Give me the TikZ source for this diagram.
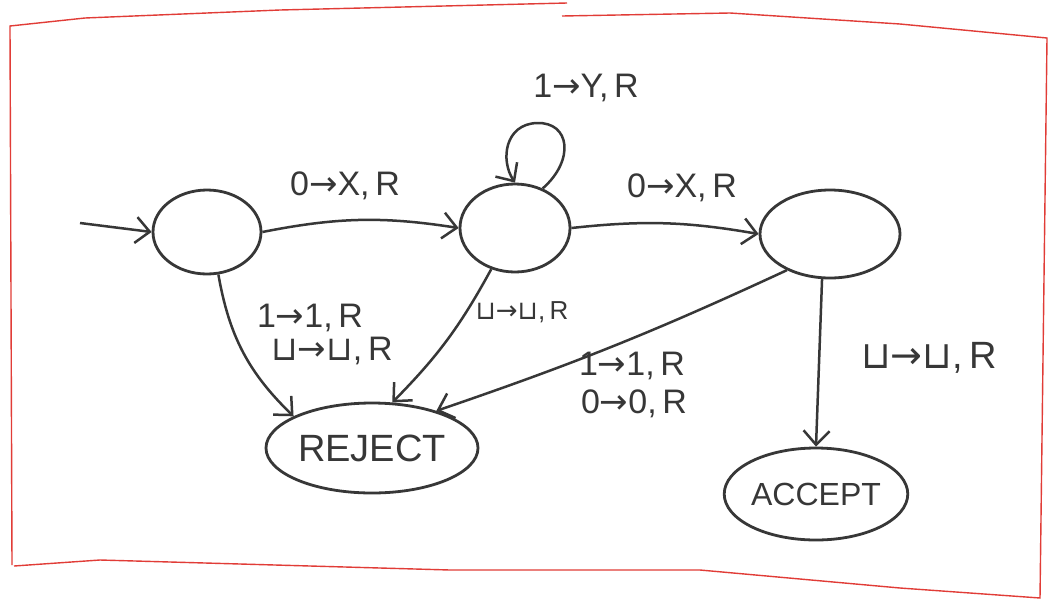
\documentclass[tikz,border=0pt]{standalone}
\usepackage{fontspec}
\setmainfont{Liberation Sans}
\newfontfamily\symf{DejaVu Sans}
\usetikzlibrary{shapes.geometric,arrows.meta}
\definecolor{ink}{RGB}{55,55,55}
\definecolor{redline}{RGB}{225,60,55}
\tikzset{
  st/.style={draw=ink, ellipse, line width=2.8pt, inner sep=0pt, text=ink},
  tr/.style={draw=ink, line width=2.5pt, -{Straight Barb[length=14pt,width=26pt,line width=2.5pt]}},
  lab/.style={font=\fontsize{34}{38}\selectfont, inner sep=1pt, text=ink},
  slab/.style={font=\fontsize{26}{30}\selectfont, inner sep=1pt, text=ink},
  frame/.style={draw=redline, line width=1.4pt}
}
\newcommand{\bl}{{\symf ⊔}}
\newcommand{\ar}{{\symf →}}
\begin{document}
\begin{tikzpicture}[x=1pt,y=-1pt]
\useasboundingbox (0,0) rectangle (1057,606);
\fill[white] (0,0) rectangle (1057,606);
% frame
\draw[frame] (12,565) -- (10,26) -- (85,18) -- (280,10) -- (567,3);
\draw[frame] (562,16) -- (730,13) -- (900,24) -- (1047,38) -- (1040,598) -- (900,588) -- (700,570) -- (450,570) -- (100,560) -- (14,566);
% states
\node[st, minimum width=108pt, minimum height=84pt] (q1) at (207,232) {};
\node[st, minimum width=110pt, minimum height=88pt] (q2) at (515,228) {};
\node[st, minimum width=140pt, minimum height=88pt] (q3) at (830,234) {};
\node[st, minimum width=212pt, minimum height=90pt, font=\fontsize{38}{42}\selectfont] (rej) at (372,448) {REJECT};
\node[st, minimum width=144pt, minimum height=92pt, font=\fontsize{32}{36}\selectfont] (acc) at (816,494) {ACCEPT};
\coordinate (start) at (80,223);
% transitions
\draw[tr] (start) -- (q1.west);
\draw[tr] (q1.east) to[bend left=10] (q2.west);
\draw[tr] (q2.east) to[bend left=8] (q3.west);
\draw[tr] (q2.55) .. controls (575,160) and (570,122) .. (537,123) .. controls (505,124) and (500,160) .. (q2.90);
\draw[tr] (q1.-75) to[bend right=18] (rej.158);
\draw[tr] (q2.-120) to[bend left=8] (rej.66);
\draw[tr] (q3.-140) to[bend left=3] (rej.30);
\draw[tr] (q3.-100) -- (acc.north);
% labels
\node[lab] (l1) at (345,186) {0\ar X,\,R};
\node[lab] (l2) at (586,88) {1\ar Y,\,R};
\node[lab] (l3) at (682,188) {0\ar X,\,R};
\node[lab] (l4) at (310,318) {1\ar 1,\,R};
\node[lab] (l5) at (332,351) {\bl\ar\bl,\,R};
\node[slab] (l6) at (522,312) {\bl\ar\bl,\,R};
\node[lab] (l7) at (632,366) {1\ar 1,\,R};
\node[lab] (l8) at (634,404) {0\ar 0,\,R};
\node[lab, font=\fontsize{38}{42}\selectfont] (l9) at (929,358) {\bl\ar\bl,\,R};
\end{tikzpicture}
\end{document}
